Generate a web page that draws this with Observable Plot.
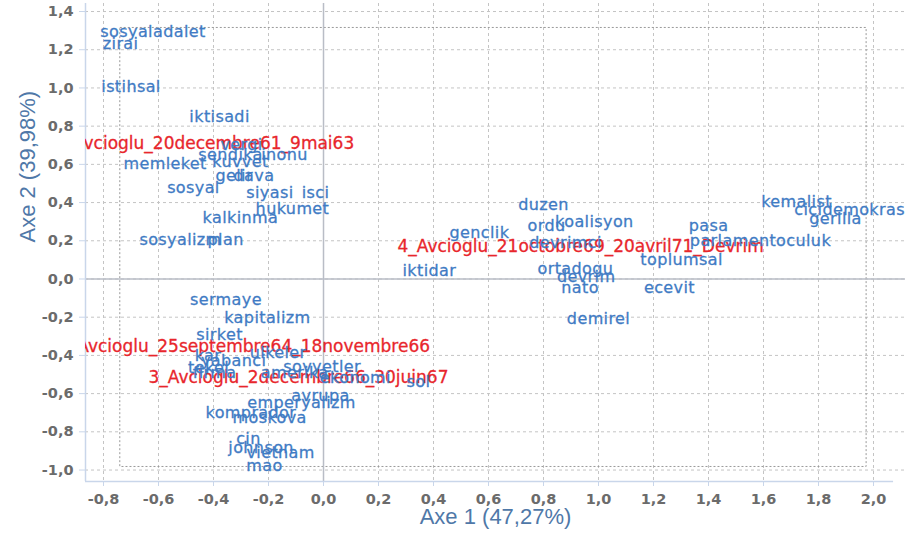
<!DOCTYPE html>
<html><head><meta charset="utf-8">
<script src="https://cdn.jsdelivr.net/npm/d3@7"></script>
<script src="https://cdn.jsdelivr.net/npm/@observablehq/plot@0.6"></script>
<style>body{margin:0;background:#fff}</style>
</head><body><div id="chart"></div>
<script>
const words = ["sosyaladalet","zirai","istihsal","iktisadi","vergi","sendika","inonu","memleket","kuvvet","gelir","dava","sosyal","siyasi","isci","hukumet","kalkinma","sosyalizm","plan","sermaye","kapitalizm","sirket","ulkeler","kar","yabanci","tekel","firma","sovyetler","amerika","ekonomi","sol","avrupa","emperyalizm","komprador","moskova","cin","johnson","vietnam","mao","duzen","ordu","koalisyon","genclik","devrimci","iktidar","ortadogu","devrim","nato","demirel","toplumsal","ecevit","pasa","parlamentoculuk","kemalist","cicidemokrasi","gerilla"];
const wordX = [-0.620,-0.738,-0.700,-0.378,-0.298,-0.338,-0.142,-0.576,-0.302,-0.325,-0.253,-0.473,-0.195,-0.029,-0.113,-0.302,-0.520,-0.356,-0.355,-0.204,-0.378,-0.165,-0.420,-0.327,-0.418,-0.396,-0.005,-0.105,0.116,0.345,-0.011,-0.080,-0.264,-0.196,-0.273,-0.227,-0.156,-0.215,0.800,0.811,0.985,0.567,0.880,0.385,0.916,0.955,0.933,1.000,1.302,1.258,1.400,1.589,1.720,1.922,1.862];
const wordY = [1.291,1.233,1.003,0.848,0.701,0.652,0.652,0.605,0.615,0.542,0.542,0.479,0.453,0.453,0.369,0.322,0.207,0.207,-0.107,-0.202,-0.291,-0.385,-0.401,-0.427,-0.463,-0.490,-0.458,-0.490,-0.516,-0.537,-0.610,-0.647,-0.699,-0.725,-0.835,-0.882,-0.908,-0.977,0.390,0.280,0.301,0.243,0.191,0.045,0.055,0.013,-0.045,-0.207,0.102,-0.045,0.280,0.202,0.406,0.364,0.317];

const periods = ["1_Avcioglu_20decembre61_9mai63","2_Avcioglu_25septembre64_18novembre66","3_Avcioglu_2decembre66_30juin67","4_Avcioglu_21octobre69_20avril71_Devrim"];
const periodX = [-0.435,-0.289,-0.091,0.935];
const periodY = [0.709,-0.353,-0.516,0.170];

const xTicks = [-0.8,-0.6,-0.4,-0.2,0.0,0.2,0.4,0.6,0.8,1.0,1.2,1.4,1.6,1.8,2.0];
const yTicks = [-1.0,-0.8,-0.6,-0.4,-0.2,0.0,0.2,0.4,0.6,0.8,1.0,1.2,1.4];
const xTitle = "Axe 1 (47,27%)";
const yTitle = "Axe 2 (39,98%)";

const fmt = d => (Math.abs(d) < 1e-9 ? 0 : d).toFixed(1).replace(".", ",");
const X0 = -0.8655, X1 = 2.1164, Y0 = -1.060, Y1 = 1.442;
const wordData = words.map((w, i) => ({w, x: wordX[i], y: wordY[i]}));
const periodData = periods.map((w, i) => ({w, x: periodX[i], y: periodY[i]}));

const chart = Plot.plot({
  width: 905, height: 541,
  marginLeft: 85, marginRight: 0, marginTop: 3, marginBottom: 60,
  style: {fontFamily: "DejaVu Sans", background: "white"},
  x: {domain: [X0, X1], label: null},
  y: {domain: [Y0, Y1], label: null},
  marks: [
    Plot.gridX(xTicks, {stroke: "#c4c4c4", strokeOpacity: 1, strokeDasharray: "3,3"}),
    Plot.gridY(yTicks, {stroke: "#c4c4c4", strokeOpacity: 1, strokeDasharray: "3,3"}),
    Plot.rect([0], {x1: -0.739, x2: 1.975, y1: -0.984, y2: 1.314, fill: "none", stroke: "#9a9a9a", strokeDasharray: "2,2"}),
    Plot.ruleX([0], {stroke: "#b9bdc6", strokeWidth: 1.5}),
    Plot.ruleY([0], {stroke: "#b9bdc6", strokeWidth: 1.5}),
    Plot.ruleX([X0], {stroke: "#c9d6ea", strokeWidth: 1.5}),
    Plot.ruleY([Y0], {x1: X0, x2: 2.073, stroke: "#c9d6ea", strokeWidth: 1.5}),
    Plot.axisX(xTicks, {tickFormat: fmt, tickSize: 5, tickPadding: 7, fontSize: 14.5, fontWeight: "bold", fill: "#6b6b6b", stroke: "#c9d6ea", label: null}),
    Plot.axisY(yTicks, {tickFormat: fmt, tickSize: 6, tickPadding: 6, fontSize: 14.5, fontWeight: "bold", fill: "#6b6b6b", stroke: "#c9d6ea", label: null}),
    Plot.text([xTitle], {frameAnchor: "bottom", dy: 42, fontSize: 22, fill: "#4f78a8", fontFamily: "Liberation Sans"}),
    Plot.text([yTitle], {frameAnchor: "left", dx: -58, rotate: -90, fontSize: 22, fill: "#4f78a8", fontFamily: "Liberation Sans"}),
    Plot.text(periodData, {x: "x", y: "y", text: "w", fill: "#e8262c", stroke: "#e8262c", strokeWidth: 0.3, fontSize: 17, clip: "frame"}),
    Plot.text(wordData, {x: "x", y: "y", text: "w", fill: "#3f7bc4", stroke: "#3f7bc4", strokeWidth: 0.3, fontSize: 16, clip: "frame"})
  ]
});
const groups = chart.querySelectorAll('g[aria-label="text"]');
if (groups.length) groups[groups.length - 1].setAttribute("letter-spacing", "0.4");
document.getElementById("chart").appendChild(chart);
</script>
</body></html>
